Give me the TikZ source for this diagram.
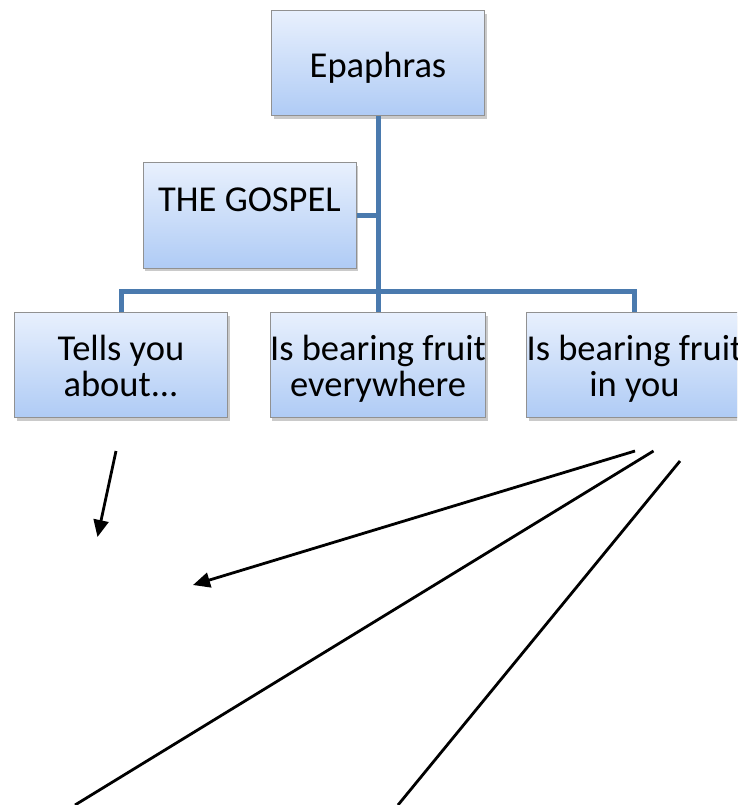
\documentclass[tikz,border=0pt]{standalone}
\usepackage{fontspec}
\setmainfont{Carlito}
\usetikzlibrary{arrows.meta,shadows}
\definecolor{boxtop}{RGB}{232,240,253}
\definecolor{boxbot}{RGB}{175,203,245}
\definecolor{boxedge}{RGB}{145,145,145}
\definecolor{conn}{RGB}{74,122,174}
\newcommand\tl[1]{\rule{0pt}{27.4pt}\smash{#1}}
\tikzset{
  box/.style={rectangle, draw=boxedge, line width=1pt, top color=boxtop, bottom color=boxbot,
    minimum width=213pt, minimum height=105pt, inner sep=0pt, align=center,
    font=\fontsize{36.5}{36}\selectfont,
    drop shadow={shadow xshift=2pt, shadow yshift=-3pt, opacity=0.35, fill=black!60}},
  link/.style={draw=conn, line width=5pt},
  pen/.style={draw=black, line width=2.8pt},
  tip/.style={-{Triangle[length=17pt,width=15pt]}}
}
\begin{document}
\begin{tikzpicture}[x=1pt,y=-1pt]
\useasboundingbox (0,0) rectangle (737,805);
\clip (0,0) rectangle (737,805);
\node[box] (ep) at (378,63.5) {\tl{Epaphras}};
\node[box] (gospel) at (249.5,215.5) {\tl{THE GOSPEL}\\\tl{}};
\node[box] (c1) at (121,365) {\tl{Tells you}\\\tl{about...}};
\node[box] (c2) at (378,365) {\tl{Is bearing fruit}\\\tl{everywhere}};
\node[box] (c3) at (634.5,365) {\tl{Is bearing fruit}\\\tl{in you}};
\coordinate (j) at (378,291);
\draw[link] (ep.south) -- (j);
\draw[link] (gospel.east) -- (gospel.east -| ep.south);
\draw[link] (c1.north) |- (j) -| (c3.north);
\draw[link] (j) -- (c2.north);
\coordinate (a1s) at (116,451);
\coordinate (a1e) at (97.5,537);
\coordinate (a2s) at (635,451);
\coordinate (a2e) at (193,585);
\coordinate (l1s) at (653.5,451);
\coordinate (l1e) at (75,805);
\coordinate (l2s) at (680,461);
\coordinate (l2e) at (398,805);
\draw[pen, tip] (a1s) -- (a1e);
\draw[pen, tip] (a2s) -- (a2e);
\draw[pen] (l1s) -- (l1e);
\draw[pen] (l2s) -- (l2e);
\end{tikzpicture}
\end{document}
